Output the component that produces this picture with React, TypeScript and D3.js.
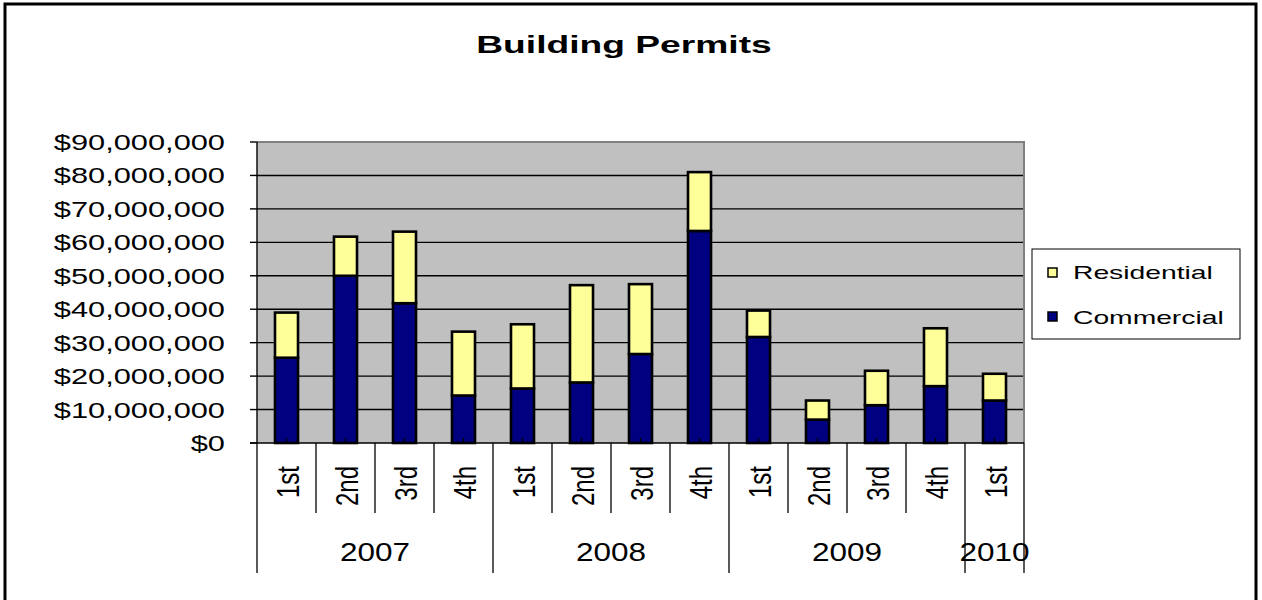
import React from 'react';
import { scaleBand, scaleLinear, stack, format, range } from 'd3';

const quarters = ['1st', '2nd', '3rd', '4th', '1st', '2nd', '3rd', '4th', '1st', '2nd', '3rd', '4th', '1st'];
const years = ['2007', '2008', '2009', '2010'];
const yearSpans = [4, 4, 4, 1];
const commercial = [25.5, 50.0, 41.8, 14.2, 16.3, 18.1, 26.6, 63.4, 31.7, 7.0, 11.3, 17.0, 12.7];
const residential = [13.5, 11.7, 21.4, 19.1, 19.2, 29.1, 20.9, 17.6, 7.9, 5.7, 10.3, 17.3, 8.0];
const yTicks = [0, 10, 20, 30, 40, 50, 60, 70, 80, 90];
const seriesNames = ['Residential', 'Commercial'];

const FONT = "'Liberation Sans', Arial, sans-serif";

export default function App() {
  const width = 1262;
  const height = 600;
  const left = 257;
  const right = 1024;
  const top = 142;
  const bottom = 443;

  const x = scaleBand<number>()
    .domain(range(quarters.length))
    .range([left, right]);
  const y = scaleLinear().domain([0, 90]).range([bottom, top]);
  const bw = x.bandwidth();
  const barW = bw * 0.39;
  const money = format('$,');

  const rows = quarters.map((q, i) => ({ commercial: commercial[i], residential: residential[i] }));
  const stacked = stack<any>().keys(['commercial', 'residential'])(rows);
  const colors: Record<string, string> = { commercial: '#000080', residential: '#FFFF99' };

  // year boundaries as band indexes
  const yearStarts: number[] = [];
  let acc = 0;
  yearSpans.forEach(s => {
    yearStarts.push(acc);
    acc += s;
  });
  const edge = (i: number) => (i >= quarters.length ? right : x(i)!);

  return (
    <svg width={width} height={height} style={{ position: 'absolute', left: 0, top: 0 }}>
      <rect x={0} y={0} width={width} height={height} fill="#fff" />
      <rect x={5} y={4} width={1251} height={620} fill="none" stroke="#000" strokeWidth={3} />

      <text
        transform={`translate(624,53) scale(1.55,1)`}
        textAnchor="middle"
        fontFamily={FONT}
        fontWeight="bold"
        fontSize={24}
      >
        Building Permits
      </text>

      {/* plot area */}
      <rect x={left} y={top} width={right - left} height={bottom - top} fill="#C0C0C0" />
      {yTicks.slice(1, -1).map(t => (
        <line key={t} x1={left} x2={right} y1={y(t)} y2={y(t)} stroke="#000" strokeWidth={1.4} />
      ))}
      <polyline
        points={`${left},${top} ${right},${top} ${right},${bottom}`}
        fill="none"
        stroke="#808080"
        strokeWidth={2}
      />

      {stacked.map(s =>
        s.map((d, i) => (
          <rect
            key={s.key + i}
            x={x(i)! + (bw - barW) / 2}
            y={y(d[1])}
            width={barW}
            height={y(d[0]) - y(d[1])}
            fill={colors[s.key]}
            stroke="#000"
            strokeWidth={2.6}
          />
        ))
      )}
      {quarters.map((q, i) => (
        <line key={'c' + i} x1={x(i)! + bw / 2} x2={x(i)! + bw / 2} y1={bottom} y2={bottom - 5} stroke="#000" strokeWidth={1.3} />
      ))}

      {/* y axis */}
      <line x1={left} x2={left} y1={top} y2={bottom} stroke="#000" strokeWidth={1.4} />
      {yTicks.map(t => (
        <g key={t}>
          <line x1={left - 7} x2={left} y1={y(t)} y2={y(t)} stroke="#000" strokeWidth={1.4} />
          <text
            transform={`translate(225,${y(t) + 8}) scale(1.4,1)`}
            textAnchor="end"
            fontFamily={FONT}
            fontSize={22}
            fill="#000"
          >
            {money(t * 1000000)}
          </text>
        </g>
      ))}

      {/* category axis */}
      <line x1={left - 7} x2={right} y1={bottom} y2={bottom} stroke="#000" strokeWidth={1.4} />
      {quarters.map((q, i) => (
        <g key={'q' + i}>
          {i > 0 && !yearStarts.includes(i) && (
            <line x1={x(i)} x2={x(i)} y1={bottom} y2={513} stroke="#000" strokeWidth={1.3} />
          )}
          <text
            transform={`translate(${x(i)! + bw / 2 + 1},466) scale(1.3,1) rotate(-90)`}
            textAnchor="end"
            dy="0.36em"
            fontFamily={FONT}
            fontSize={24}
          >
            {q}
          </text>
        </g>
      ))}
      {years.map((yr, j) => {
        const x0 = edge(yearStarts[j]);
        const x1 = edge(yearStarts[j] + yearSpans[j]);
        return (
          <g key={yr}>
            <line x1={x0} x2={x0} y1={bottom} y2={573} stroke="#000" strokeWidth={1.3} />
            <text
              transform={`translate(${(x0 + x1) / 2},561) scale(1.26,1)`}
              textAnchor="middle"
              fontFamily={FONT}
              fontSize={25}
            >
              {yr}
            </text>
          </g>
        );
      })}
      <line x1={right} x2={right} y1={bottom} y2={573} stroke="#000" strokeWidth={1.3} />

      {/* legend */}
      <rect x={1032} y={249} width={208} height={90} fill="#fff" stroke="#000" strokeWidth={1} />
      {seriesNames.map((name, i) => (
        <g key={name}>
          <rect
            x={1048}
            y={268 + i * 44}
            width={9}
            height={9}
            fill={name === 'Residential' ? colors.residential : colors.commercial}
            stroke="#000"
            strokeWidth={1.5}
          />
          <text
            transform={`translate(1073,${278.5 + i * 45}) scale(1.52,1)`}
            fontFamily={FONT}
            fontSize={18.6}
          >
            {name}
          </text>
        </g>
      ))}
    </svg>
  );
}
